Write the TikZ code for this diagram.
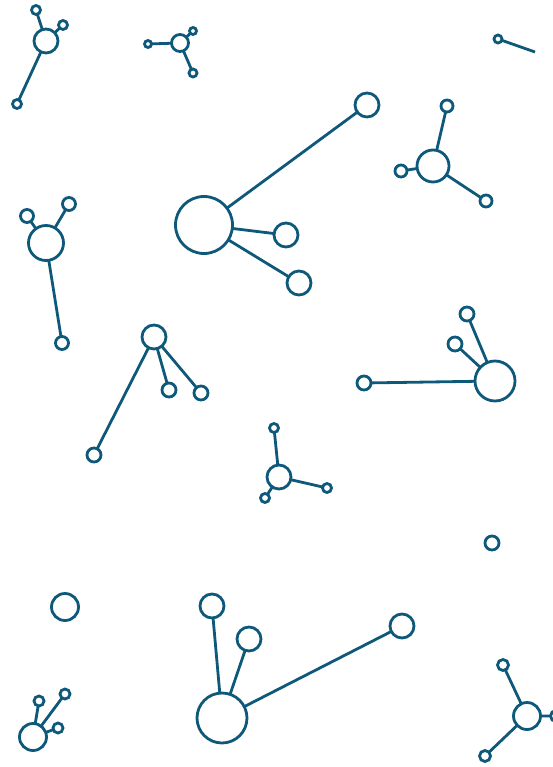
\documentclass[tikz,border=0pt]{standalone}
\definecolor{ink}{RGB}{14,88,122}
\begin{document}
\begin{tikzpicture}[x=1pt,y=-1pt,
  nd/.style={circle,draw=ink,line width=2.8pt,minimum size=#1,inner sep=0pt,outer sep=0pt},
  link/.style={draw=ink,line width=2.8pt}]
\useasboundingbox (0,0) rectangle (553,767);
\clip (0,0) rectangle (553,767);
% cluster A (top-left)
\node[nd=24pt] (a0) at (46,41) {};
\node[nd=9pt] (a1) at (36,10) {};
\node[nd=9pt] (a2) at (63,25) {};
\node[nd=9pt] (a3) at (17,104) {};
\draw[link] (a0)--(a1) (a0)--(a2) (a0)--(a3);
% cluster B
\node[nd=17pt] (b0) at (180,43) {};
\node[nd=7pt] (b1) at (148,44) {};
\node[nd=7pt] (b2) at (193,31) {};
\node[nd=8pt] (b3) at (193,73) {};
\draw[link] (b0)--(b1) (b0)--(b2) (b0)--(b3);
% top-right lone
\node[nd=8pt] (c1) at (498,39) {};
\coordinate (c2) at (535,52);
\draw[link] (c1)--(c2);
% cluster D
\node[nd=32pt] (d0) at (433,166) {};
\node[nd=12pt] (d1) at (447,106) {};
\node[nd=12pt] (d2) at (401,171) {};
\node[nd=12pt] (d3) at (486,201) {};
\draw[link] (d0)--(d1) (d0)--(d2) (d0)--(d3);
% big cluster E
\node[nd=57pt] (e0) at (204,225) {};
\node[nd=24pt] (e1) at (367,105) {};
\node[nd=24pt] (e2) at (286,235) {};
\node[nd=24pt] (e3) at (299,283) {};
\draw[link] (e0)--(e1) (e0)--(e2) (e0)--(e3);
% cluster F (left)
\node[nd=35pt] (f0) at (46,243) {};
\node[nd=13pt] (f1) at (27,216) {};
\node[nd=13pt] (f2) at (69,204) {};
\node[nd=13pt] (f3) at (62,343) {};
\draw[link] (f0)--(f1) (f0)--(f2) (f0)--(f3);
% cluster G
\node[nd=24pt] (g0) at (154,337) {};
\node[nd=14pt] (g1) at (169,390) {};
\node[nd=14pt] (g2) at (201,393) {};
\node[nd=14pt] (g3) at (94,455) {};
\draw[link] (g0)--(g1) (g0)--(g2) (g0)--(g3);
% cluster H
\node[nd=24pt] (h0) at (279,477) {};
\node[nd=9pt] (h1) at (274,428) {};
\node[nd=9pt] (h2) at (327,488) {};
\node[nd=9pt] (h3) at (265,498) {};
\draw[link] (h0)--(h1) (h0)--(h2) (h0)--(h3);
% cluster I (right middle)
\node[nd=40pt] (i0) at (495,381) {};
\node[nd=14pt] (i1) at (467,314) {};
\node[nd=14pt] (i2) at (455,344) {};
\node[nd=14pt] (i3) at (364,383) {};
\draw[link] (i0)--(i1) (i0)--(i2) (i0)--(i3);
% lone circles
\node[nd=14pt] (j1) at (492,543) {};
\node[nd=27pt] (k1) at (65,607) {};
% cluster L (bottom-left)
\node[nd=27pt] (l0) at (33,737) {};
\node[nd=10pt] (l1) at (39,701) {};
\node[nd=10pt] (l2) at (65,694) {};
\node[nd=10pt] (l3) at (58,728) {};
\draw[link] (l0)--(l1) (l0)--(l2) (l0)--(l3);
% cluster M (bottom big)
\node[nd=50pt] (m0) at (222,718) {};
\node[nd=24pt] (m1) at (212,606) {};
\node[nd=24pt] (m2) at (249,639) {};
\node[nd=24pt] (m3) at (402,626) {};
\draw[link] (m0)--(m1) (m0)--(m2) (m0)--(m3);
% cluster N (bottom right)
\node[nd=27pt] (n0) at (527,716) {};
\node[nd=11pt] (n1) at (503,665) {};
\node[nd=11pt] (n2) at (485,756) {};
\node[nd=11pt] (n3) at (556,716) {};
\draw[link] (n0)--(n1) (n0)--(n2) (n0)--(n3);
\end{tikzpicture}
\end{document}
